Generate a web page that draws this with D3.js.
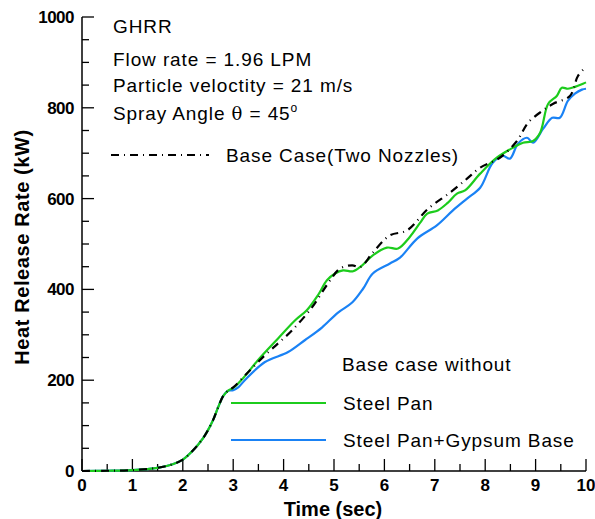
<!DOCTYPE html>
<html>
<head>
<meta charset="utf-8">
<script src="https://cdn.jsdelivr.net/npm/d3@7"></script>
<style>
  body { margin: 0; background: #fff; }
  svg text { font-family: "Liberation Sans", Arial, sans-serif; fill: #000; }
</style>
</head>
<body>
<div id="chart"></div>
<script>
// Shared ignition ramp, all three cases overlap here
const rampTime = [0, 0.5, 1, 1.5, 1.8, 2, 2.2, 2.4, 2.5, 2.6, 2.7, 2.8, 2.9];
const rampHRR  = [0, 0.5, 2, 7, 15, 25, 45, 72, 90, 112, 140, 165, 177];

// Base case (two nozzles) - dash dot
const baseTime = [3.0, 3.3, 3.63, 3.9, 4.17, 4.56, 4.88, 5.12, 5.36, 5.52, 5.77, 6.11, 6.45, 6.87, 7.3, 7.64, 7.9, 8.29, 8.63, 8.85, 9.13, 9.35, 9.68, 9.84, 10.0];
const baseHRR  = [184, 218, 255, 282, 310, 360, 413, 446, 453, 449, 481, 519, 530, 578, 613, 644, 668, 690, 727, 767, 793, 809, 826, 870, 890];

// Steel pan
const panTime = [3.0, 3.2, 3.49, 3.89, 4.23, 4.46, 4.68, 4.86, 5.02, 5.18, 5.38, 5.56, 5.77, 6.05, 6.27, 6.5, 6.71, 6.85, 7.06, 7.25, 7.44, 7.6, 7.9, 8.23, 8.55, 8.75, 8.95, 9.09, 9.25, 9.42, 9.52, 9.64, 9.78, 9.94, 10.0];
const panHRR  = [183, 205, 244, 292, 332, 354, 387, 420, 435, 442, 440, 453, 475, 492, 490, 515, 547, 567, 574, 590, 611, 618, 655, 690, 712, 723, 727, 745, 809, 826, 844, 842, 846, 853, 856];

// Steel pan + gypsum base
const gypTime = [3.0, 3.1, 3.23, 3.63, 4.09, 4.42, 4.76, 5.08, 5.36, 5.58, 5.77, 6.11, 6.31, 6.65, 7.04, 7.36, 7.64, 7.9, 8.15, 8.35, 8.49, 8.65, 8.83, 8.95, 9.15, 9.33, 9.48, 9.64, 9.78, 9.92, 10.0];
const gypHRR  = [178, 184, 200, 240, 262, 288, 316, 349, 371, 402, 435, 457, 470, 512, 541, 574, 600, 624, 679, 694, 688, 721, 734, 723, 754, 778, 778, 815, 831, 840, 842];

const xTicks = d3.range(0, 10.01, 1);
const yTicks = [0, 200, 400, 600, 800, 1000];

const width = 595, height = 519;
const margin = {left: 82, right: 9, top: 17, bottom: 48};

const svg = d3.select('#chart').append('svg')
    .attr('width', width)
    .attr('height', height);

const x = d3.scaleLinear().domain([0, 10]).range([margin.left, width - margin.right]);
const y = d3.scaleLinear().domain([0, 1000]).range([height - margin.bottom, margin.top]);

function series(t, v) {
    const pts = rampTime.map((d, i) => [d, rampHRR[i]]);
    return pts.concat(t.map((d, i) => [d, v[i]]));
}

// Axes: ticks point inward
const xAxis = svg.append('g').attr('transform', `translate(0,${y(0)})`);
xAxis.append('line').attr('x1', x(0)).attr('x2', x(10)).attr('stroke', '#000').attr('stroke-width', 1.5);
xAxis.selectAll('.minor').data(d3.range(0, 10.01, 0.5)).join('line')
    .attr('x1', d => x(d)).attr('x2', d => x(d))
    .attr('y1', 0).attr('y2', d => Number.isInteger(d) ? -12 : -7)
    .attr('stroke', '#000').attr('stroke-width', 1.3);
xAxis.selectAll('text').data(xTicks).join('text')
    .attr('x', d => x(d)).attr('y', 20)
    .attr('text-anchor', 'middle')
    .attr('font-size', 17).attr('font-weight', 'bold')
    .text(d => d);

const yAxis = svg.append('g').attr('transform', `translate(${x(0)},0)`);
yAxis.append('line').attr('y1', y(0)).attr('y2', y(1000)).attr('stroke', '#000').attr('stroke-width', 1.5);
yAxis.selectAll('.minor').data(d3.range(0, 1001, 50)).join('line')
    .attr('y1', d => y(d)).attr('y2', d => y(d))
    .attr('x1', 0).attr('x2', d => d % 200 === 0 ? 12 : 7)
    .attr('stroke', '#000').attr('stroke-width', 1.3);
yAxis.selectAll('text').data(yTicks).join('text')
    .attr('x', -8).attr('y', d => y(d) + 6)
    .attr('text-anchor', 'end')
    .attr('font-size', 17).attr('font-weight', 'bold')
    .attr('letter-spacing', -0.5)
    .text(d => d);

svg.append('text')
    .attr('x', 333).attr('y', 516)
    .attr('text-anchor', 'middle')
    .attr('font-size', 20).attr('font-weight', 'bold')
    .text('Time (sec)');
svg.append('text')
    .attr('transform', `translate(29,247) rotate(-90)`)
    .attr('text-anchor', 'middle')
    .attr('font-size', 20).attr('font-weight', 'bold')
    .attr('letter-spacing', 0.6)
    .text('Heat Release Rate (kW)');

// Curves
const line = d3.line().x(d => x(d[0])).y(d => y(d[1])).curve(d3.curveCatmullRom);

svg.append('path').datum(series(gypTime, gypHRR))
    .attr('d', line).attr('fill', 'none')
    .attr('stroke', '#1a82f5').attr('stroke-width', 2.2);
svg.append('path').datum(series(panTime, panHRR))
    .attr('d', line).attr('fill', 'none')
    .attr('stroke', '#1ccc1c').attr('stroke-width', 2.2);
svg.append('path').datum(series(baseTime, baseHRR))
    .attr('d', line).attr('fill', 'none')
    .attr('stroke', '#000').attr('stroke-width', 2.2)
    .attr('stroke-dasharray', '8,5,1,5');

// Annotations
const textStyle = sel => sel.attr('font-size', 19).attr('letter-spacing', 0.9);
const notes = [
    {text: 'GHRR', y: 33},
    {text: 'Flow rate = 1.96 LPM', y: 66},
    {text: 'Particle veloctity = 21 m/s', y: 92}
];
svg.selectAll('.note').data(notes).join('text')
    .attr('x', 113).attr('y', d => d.y)
    .call(textStyle)
    .text(d => d.text);
const spray = svg.append('text').attr('x', 113).attr('y', 120).call(textStyle);
spray.append('tspan').text('Spray Angle ');
spray.append('tspan').attr('font-family', '"DejaVu Serif", serif').attr('font-size', 18).text('\u03b8');
spray.append('tspan').text(' = 45');
spray.append('tspan').attr('font-size', 12).attr('dy', -8).text('o');

// Legend: base case
svg.append('line')
    .attr('x1', 111).attr('x2', 209).attr('y1', 155).attr('y2', 155)
    .attr('stroke', '#000').attr('stroke-width', 2)
    .attr('stroke-dasharray', '8,5,1,5');
svg.append('text').attr('x', 226).attr('y', 162).call(textStyle)
    .text('Base Case(Two Nozzles)');

// Legend: without cases
svg.append('text').attr('x', 342).attr('y', 371).call(textStyle)
    .text('Base case without');
const legend = [
    {label: 'Steel Pan', color: '#1ccc1c', y: 403},
    {label: 'Steel Pan+Gypsum Base', color: '#1a82f5', y: 440}
];
legend.forEach(d => {
    svg.append('line')
        .attr('x1', 231).attr('x2', 326).attr('y1', d.y).attr('y2', d.y)
        .attr('stroke', d.color).attr('stroke-width', 2.2);
    svg.append('text').attr('x', 343).attr('y', d.y + 7).call(textStyle)
        .text(d.label);
});
</script>
</body>
</html>
